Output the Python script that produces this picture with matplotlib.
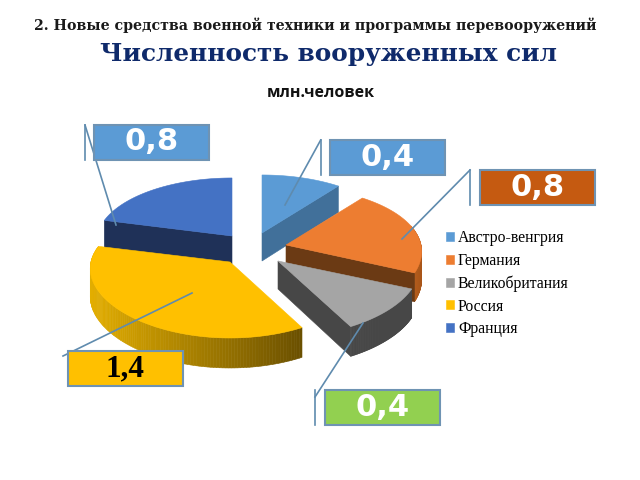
import numpy as np
import matplotlib
matplotlib.use("Agg")
import matplotlib.pyplot as plt
from matplotlib.patches import Polygon, Rectangle
from matplotlib.colors import to_rgb

# Data
categories = ["Австро-венгрия", "Германия", "Великобритания", "Россия", "Франция"]
values = [0.4, 0.8, 0.4, 1.4, 0.8]
value_labels = ["0,4", "0,8", "0,4", "1,4", "0,8"]

# Styles and layout (pixels)
top_colors = ["#5B9BD5", "#ED7D31", "#A5A5A5", "#FFC000", "#4472C4"]
cut_colors = ["#41709A", "#6B3A14", "#474747", None, "#1F3158"]
cut_side = ["end", "end", "end", None, "start"]
arc_left = ["#41709A", "#B8601F", "#474747", "#E3AE00", "#1F3158"]
arc_right = ["#41709A", "#A85518", "#474747", "#6B5000", "#1F3158"]
has_rim = [False, True, True, True, False]
apexes = [(262, 233), (286, 245), (278, 261), (230, 262), (232, 236)]
x_scale = [1.0, 1.0, 1.04, 1.03, 1.0]
RX, RY, PX, PY, DEPTH = 135, 65.8, 0.10, 0.134, 28
draw_order = [0, 4, 1, 2, 3]
box_specs = {
    4: dict(xy=(94, 125), fc="#5B9BD5", tc="white"),
    0: dict(xy=(330, 140), fc="#5B9BD5", tc="white"),
    1: dict(xy=(480, 170), fc="#C55A11", tc="white"),
    2: dict(xy=(325, 390), fc="#92D050", tc="white"),
    3: dict(xy=(68, 351), fc="#FFC000", tc="black"),
}
leaders = {
    4: [(85, 125), (116, 225)],
    0: [(320.7, 140), (285, 205)],
    1: [(470, 170), (402, 239)],
    2: [(315, 397), (363, 323)],
    3: [(63, 356), (192, 293)],
}
LINE = "#5F8BAE"

fig = plt.figure(figsize=(6.4, 4.8), dpi=100)
ax = fig.add_axes([0, 0, 1, 1])
ax.set_xlim(0, 640)
ax.set_ylim(480, 0)
ax.axis("off")


def proj(a_deg, i, down=0.0):
    a = np.radians(a_deg)
    x = apexes[i][0] + x_scale[i] * RX * np.cos(a) * (1 - PX * np.sin(a))
    y = apexes[i][1] - RY * np.sin(a) / (1 + PY * np.sin(a)) + down
    return x, y


def depth_at(a_deg):
    return DEPTH - 2 * np.sin(np.radians(a_deg))


# slice angles: clockwise from 12 o'clock
sweeps = 360 * np.array(values) / sum(values)
ends = 90 - np.cumsum(sweeps)
starts = ends + sweeps

handles = [None] * len(values)
z = 2
for i in draw_order:
    a0, a1 = starts[i], ends[i]
    angles = np.linspace(a0, a1, 120)
    ax_, ay_ = apexes[i]

    # outer rim, shaded in strips along x
    segs = [(p, q) for p, q in zip(angles[:-1], angles[1:])
            if has_rim[i] and np.sin(np.radians((p + q) / 2)) < 0.3]
    if segs:
        xs = [proj(p, i)[0] for p, _ in segs]
        lo, hi = min(xs), max(xs)
        cl, cr = np.array(to_rgb(arc_left[i])), np.array(to_rgb(arc_right[i]))
        for p, q in segs:
            t = (proj(p, i)[0] - lo) / max(hi - lo, 1)
            c = cl + (cr - cl) * t
            pts = [proj(p, i), proj(q, i), proj(q, i, depth_at(q)), proj(p, i, depth_at(p))]
            ax.add_patch(Polygon(pts, closed=True, fc=c, ec=c, lw=0.4, zorder=z, snap=False))

    # visible cut face
    if cut_colors[i] is not None:
        cut_a = a1 if cut_side[i] == "end" else a0
        pts = [(ax_, ay_), proj(cut_a, i), proj(cut_a, i, depth_at(cut_a)), (ax_, ay_ + DEPTH)]
        ax.add_patch(Polygon(pts, closed=True, fc=cut_colors[i], ec=cut_colors[i],
                             lw=0.4, zorder=z, snap=False))

    # top face
    outline = [(ax_, ay_)] + [proj(a, i) for a in angles]
    handles[i] = ax.add_patch(Polygon(outline, closed=True, fc=top_colors[i],
                                      ec=top_colors[i], lw=0.4, zorder=z + 0.5, snap=False))
    z += 1

# leader lines and value boxes
for i in range(len(values)):
    s = box_specs[i]
    x0, y0 = s["xy"]
    w, h = 115, 35
    (lx0, ly0), (lx1, ly1) = leaders[i]
    ax.plot([lx0, lx1], [ly0, ly1], color=LINE, lw=1.2, zorder=20)
    if i != 3:
        ax.plot([lx0, lx0], [y0, y0 + h], color=LINE, lw=1.2, zorder=20)
    ax.add_patch(Rectangle((x0, y0), w, h, fc=s["fc"], ec="#6F93B3", lw=1.5, zorder=21))
    if i == 3:
        ax.text(x0 + w / 2 - 1, y0 + h / 2 + 0.5, value_labels[i], color=s["tc"], ha="center",
                va="center", fontsize=22.5, fontweight="bold",
                family="Liberation Serif", zorder=22)
    else:
        ax.text(x0 + w / 2, y0 + h / 2 - 0.5, value_labels[i], color=s["tc"], ha="center",
                va="center", fontsize=22, fontweight="bold",
                family="DejaVu Sans", zorder=22)

# legend
leg = ax.legend(handles, categories, loc="upper left", bbox_to_anchor=(446 / 640, 1 - 230 / 480),
                bbox_transform=fig.transFigure, frameon=False, borderpad=0, borderaxespad=0,
                handlelength=0.51, handleheight=0.51, handletextpad=0.25, labelspacing=0.425,
                prop=dict(family="Liberation Serif", size=11.3))
leg.set_zorder(25)

# titles
ax.text(315, 25, "2. Новые средства военной техники и программы перевооружений",
        ha="center", va="center", fontsize=10.15, fontweight="bold",
        family="DejaVu Serif", color="#1A1A1A")
ax.text(329, 54, "Численность вооруженных сил", ha="center", va="center",
        fontsize=17.85, fontweight="bold", family="DejaVu Serif", color="#0F2A6B")
ax.text(320.5, 93, "млн.человек", ha="center", va="center", fontsize=11.5,
        fontweight="bold", family="Open Sans", color="#111111")

fig.savefig("out.png", dpi=100)
